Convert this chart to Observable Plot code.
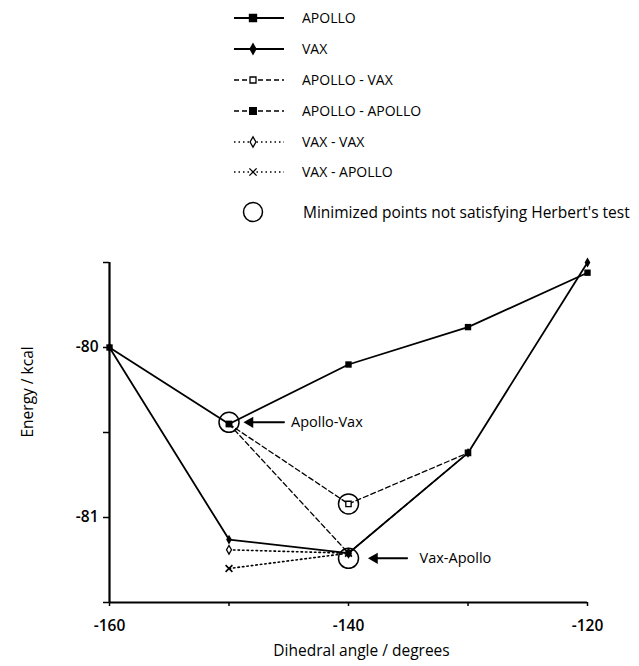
<!DOCTYPE html>
<html>
<head>
<meta charset="utf-8">
<script src="https://cdn.jsdelivr.net/npm/d3@7"></script>
<script src="https://cdn.jsdelivr.net/npm/@observablehq/plot@0.6"></script>
<style>
  html, body { margin: 0; padding: 0; background: #fff; }
  body { width: 639px; height: 666px; font-family: "Open Sans", sans-serif; color: #000; overflow: hidden; }
  #legend { position: relative; height: 240px; width: 639px; }
  .row { position: absolute; left: 0; height: 20px; }
  .row svg { position: absolute; left: 230px; top: 0; }
  .row span { position: absolute; left: 302px; top: 0; line-height: 20px; font-size: 14px; font-weight: 400; white-space: nowrap; }
</style>
</head>
<body>
<div id="legend"></div>
<div id="chart"></div>
<script>
// ---- data ----
const angles = [-160, -150, -140, -130, -120];
const apollo = [-80.0, -80.45, -80.10, -79.88, -79.56];
const vax = [-80.0, -81.13, -81.21, -80.62, -79.50];

const restartAngles = [-150, -140, -130];
const apolloVax = [-80.45, -80.92, -80.62];
const apolloApollo = [-80.45, -81.21, -80.62];

const vaxRestartAngles = [-150, -140];
const vaxVax = [-81.19, -81.21];
const vaxApollo = [-81.30, -81.21];

const failAngles = [-150, -140, -140];
const failEnergies = [-80.44, -80.92, -81.24];

const annotationLabels = ["Apollo-Vax", "Vax-Apollo"];
const annotationAngles = [-150, -140];
const annotationEnergies = [-80.44, -81.24];

const yTicks = [-81.5, -81, -80.5, -80, -79.5];
const xTicks = [-160, -150, -140, -130, -120];
const xTickLabels = [-160, -140, -120];
const yTickLabels = [-81, -80];

const seriesNames = ["APOLLO", "VAX", "APOLLO - VAX", "APOLLO - APOLLO", "VAX - VAX", "VAX - APOLLO"];
const noteText = "Minimized points not satisfying Herbert's test";
const xTitle = "Dihedral angle / degrees";
const yTitle = "Energy / kcal";

// ---- build tables ----
const zip = (xs, ys) => xs.map((x, i) => ({x, y: ys[i]}));
const dApollo = zip(angles, apollo);
const dVax = zip(angles, vax);
const dApolloVax = zip(restartAngles, apolloVax);
const dApolloApollo = zip(restartAngles, apolloApollo);
const dVaxVax = zip(vaxRestartAngles, vaxVax);
const dVaxApollo = zip(vaxRestartAngles, vaxApollo);
const dFail = zip(failAngles, failEnergies);
const dNotes = annotationLabels.map((label, i) => ({label, x: annotationAngles[i], y: annotationEnergies[i]}));

const FONT = "'Open Sans', sans-serif";
const dash = "5,3";
const dot = "1.5,3";

// ---- legend (HTML + small svg swatches) ----
const styles = [
  {dash: null, sym: d3.symbolSquare, size: 50, fill: "#000"},
  {dash: null, sym: d3.symbolDiamond, size: 30, fill: "#000"},
  {dash: dash, sym: d3.symbolSquare, size: 36, fill: "#fff"},
  {dash: dash, sym: d3.symbolSquare, size: 44, fill: "#000"},
  {dash: dot, sym: d3.symbolDiamond, size: 30, fill: "#fff"},
  {dash: dot, sym: d3.symbolTimes, size: 36, fill: "none"}
];
const rowTops = [8, 39, 70, 101, 132, 162];
const legend = d3.select("#legend");
seriesNames.forEach((name, i) => {
  const s = styles[i];
  const row = legend.append("div").attr("class", "row").style("top", rowTops[i] + "px");
  const svg = row.append("svg").attr("width", 60).attr("height", 20);
  svg.append("line").attr("x1", 4).attr("x2", 54).attr("y1", 10).attr("y2", 10)
    .attr("stroke", "#000").attr("stroke-width", s.dash === dot ? 1.6 : (s.dash ? 1.3 : 1.8))
    .attr("stroke-dasharray", s.dash);
  svg.append("path").attr("transform", "translate(23,10)")
    .attr("d", d3.symbol(s.sym, s.size)())
    .attr("fill", s.fill).attr("stroke", "#000").attr("stroke-width", 1.3);
  row.append("span").text(name);
});
const noteRow = legend.append("div").attr("class", "row").style("top", "200px").style("height", "24px");
const nsvg = noteRow.append("svg").attr("width", 60).attr("height", 24);
nsvg.append("circle").attr("cx", 23).attr("cy", 12).attr("r", 9.5).attr("fill", "none").attr("stroke", "#000").attr("stroke-width", 1.5);
noteRow.append("span").style("left", "303px").style("line-height", "24px").style("font-size", "15.5px").style("font-weight", "400").text(noteText);

// ---- chart ----
const first = dNotes.slice(0, 1);
const second = dNotes.slice(1, 2);
const chart = Plot.plot({
  width: 639,
  height: 426,
  marginLeft: 109,
  marginRight: 52,
  marginTop: 22,
  marginBottom: 64,
  x: {domain: [-160, -120]},
  y: {domain: [-81.5, -79.5]},
  style: {fontFamily: FONT, fontSize: "15.5px", fontWeight: 600, color: "#000", background: "#fff", overflow: "visible"},
  marks: [
    Plot.axisX({ticks: xTicks, tickSize: 4, tickPadding: 13, tickFormat: d => xTickLabels.includes(d) ? String(d) : "", label: null, strokeWidth: 1.5}),
    Plot.axisY({ticks: yTicks, tickSize: 6, tickPadding: 5, tickFormat: d => yTickLabels.includes(d) ? String(d) : "", label: null, strokeWidth: 1.5}),
    Plot.ruleX([-160], {strokeWidth: 2.2}),
    Plot.ruleY([-81.5], {strokeWidth: 2.2}),
    Plot.text([xTitle], {frameAnchor: "bottom", dy: 53, dx: 13, fontSize: 15.5, fontWeight: 400}),
    Plot.text([yTitle], {frameAnchor: "left", rotate: -90, dx: -81, dy: 5, fontSize: 15.5, fontWeight: 400}),

    Plot.line(dVaxVax, {x: "x", y: "y", stroke: "#000", strokeWidth: 1.6, strokeDasharray: dot}),
    Plot.line(dVaxApollo, {x: "x", y: "y", stroke: "#000", strokeWidth: 1.6, strokeDasharray: dot}),
    Plot.line(dApolloVax, {x: "x", y: "y", stroke: "#000", strokeWidth: 1.3, strokeDasharray: dash}),
    Plot.line(dApolloApollo, {x: "x", y: "y", stroke: "#000", strokeWidth: 1.3, strokeDasharray: dash}),
    Plot.line(dVax, {x: "x", y: "y", stroke: "#000", strokeWidth: 1.8}),
    Plot.line(dApollo, {x: "x", y: "y", stroke: "#000", strokeWidth: 1.8}),

    Plot.dot(dFail, {x: "x", y: "y", r: 10, stroke: "#000", fill: "none", strokeWidth: 1.5}),

    Plot.dot(dVaxVax, {x: "x", y: "y", symbol: "diamond", r: 2.6, fill: "#fff", stroke: "#000", strokeWidth: 1.3}),
    Plot.dot(dVaxApollo, {x: "x", y: "y", symbol: "times", r: 3.2, stroke: "#000", strokeWidth: 1.6}),
    Plot.dot(dApolloVax, {x: "x", y: "y", symbol: "square", r: 3, fill: "#fff", stroke: "#000", strokeWidth: 1.3}),
    Plot.dot(dApolloApollo, {x: "x", y: "y", symbol: "square", r: 3.4, fill: "#000"}),
    Plot.dot(dVax, {x: "x", y: "y", symbol: "diamond", r: 3, fill: "#000"}),
    Plot.dot(dApollo, {x: "x", y: "y", symbol: "square", r: 3.6, fill: "#000"}),

    // annotation arrows: shaft + filled head, then label
    Plot.arrow(first, {x1: d => d.x + 4.6, x2: "x", y1: "y", y2: "y", insetEnd: 22, stroke: "#000", strokeWidth: 2, headLength: 0}),
    Plot.dot(first, {x: "x", y: "y", symbol: "triangle", rotate: -90, r: 4.2, dx: 21, fill: "#000"}),
    Plot.text(first, {x: "x", y: "y", text: "label", textAnchor: "start", dx: 62, fontSize: 14.5, fontWeight: 400}),

    Plot.arrow(second, {x1: d => d.x + 4.9, x2: "x", y1: "y", y2: "y", insetEnd: 27, stroke: "#000", strokeWidth: 2, headLength: 0}),
    Plot.dot(second, {x: "x", y: "y", symbol: "triangle", rotate: -90, r: 4.2, dx: 26, fill: "#000"}),
    Plot.text(second, {x: "x", y: "y", text: "label", textAnchor: "start", dx: 71, fontSize: 14.5, fontWeight: 400})
  ]
});
document.getElementById("chart").appendChild(chart);
</script>
</body>
</html>
